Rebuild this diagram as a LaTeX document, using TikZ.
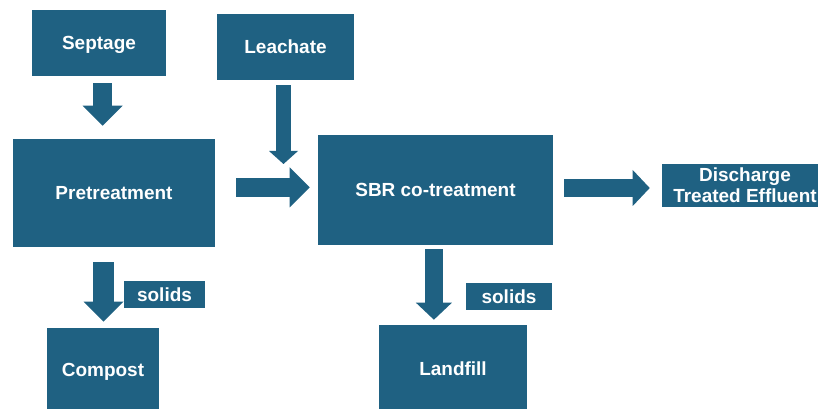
\documentclass[tikz,border=0pt]{standalone}
\usepackage{fontspec}
\setmainfont{Liberation Sans}
\usetikzlibrary{arrows.meta}

\definecolor{boxblue}{RGB}{31,97,130}

\begin{document}
\begin{tikzpicture}[box/.style={rectangle,
                                fill = boxblue,
                                text = white,
                                inner sep = 0pt,
                                text depth = 0pt,
                                align = center,
                                font = \bfseries\fontsize{13.5}{15}\selectfont},
                    flow/.style={draw = boxblue,
                                 line width = 0.475cm,
                                 -{Triangle[width=1cm,length=0.5cm,line width=0pt]}},
                    smallflow/.style={draw = boxblue,
                                      line width = 0.45cm,
                                      -{Triangle[width=0.9cm,length=0.425cm,line width=0pt]}}]

    \useasboundingbox (0,0) rectangle (20.45,-10.225);

    \node[box,
          minimum width = 3.35cm,
          minimum height = 1.65cm] (Septage) at (2.475,-1.075) {Septage};

    \node[box,
          minimum width = 3.425cm,
          minimum height = 1.65cm] (Leachate) at (7.1375,-1.175) {Leachate};

    \node[box,
          minimum width = 5.05cm,
          minimum height = 2.7cm] (Pretreatment) at (2.85,-4.825) {Pretreatment};

    \node[box,
          minimum width = 5.875cm,
          minimum height = 2.75cm] (SBR) at (10.8875,-4.75) {SBR co-treatment};

    \node[box,
          minimum width = 4.15cm,
          minimum height = 1.075cm] (Discharge) at (18.625,-4.6375) {Discharge\\Treated Effluent};

    \node[box,
          minimum width = 2.8cm,
          minimum height = 2.1cm] (Compost) at (2.575,-9.25) {Compost};

    \node[box,
          minimum width = 3.7cm,
          minimum height = 2.2cm] (Landfill) at (11.325,-9.225) {Landfill};

    \node[box,
          minimum width = 2.025cm,
          minimum height = 0.675cm] (SolidsA) at (4.1125,-7.3625) {solids};

    \node[box,
          minimum width = 2.15cm,
          minimum height = 0.675cm] (SolidsB) at (12.725,-7.4125) {solids};

    % block arrows
    \draw[flow, shorten <=0.175cm, shorten >=0.325cm]
        ([xshift=0.09cm]Septage.south) -- ([xshift=0.09cm]Septage.south |- Pretreatment.north);

    \draw[draw = boxblue,
          line width = 0.375cm,
          -{Triangle[width=0.725cm,length=0.325cm,line width=0pt]},
          shorten <=0.125cm, shorten >=0.65cm]
        ([xshift=-0.05cm]Leachate.south) -- ([xshift=-0.05cm]Leachate.south |- SBR.west);

    \draw[flow, shorten <=0.525cm, shorten >=0.2cm]
        ([yshift=0.14cm]Pretreatment.east) -- ([yshift=0.14cm]Pretreatment.east -| SBR.west);

    \draw[smallflow, shorten <=0.275cm, shorten >=0.3cm]
        ([yshift=0.05cm]SBR.east) -- ([yshift=0.05cm]SBR.east -| Discharge.west);

    \draw[flow, line width = 0.525cm, shorten <=0.375cm, shorten >=0.15cm]
        ([xshift=0.0125cm]Compost.north |- Pretreatment.south) -- ([xshift=0.0125cm]Compost.north);

    \draw[smallflow, shorten <=0.1cm, shorten >=0.125cm]
        ([xshift=-0.04cm]SBR.south) -- ([xshift=-0.04cm]SBR.south |- Landfill.north);

\end{tikzpicture}
\end{document}
